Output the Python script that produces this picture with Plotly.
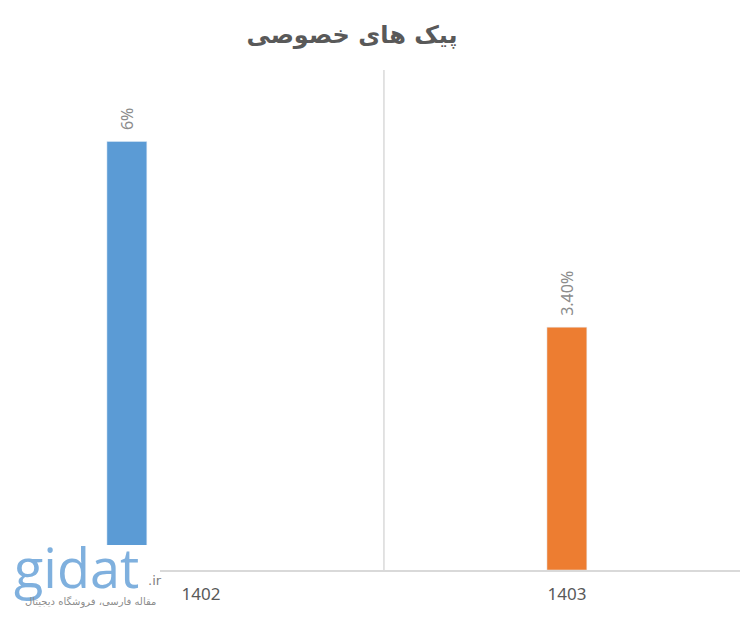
import plotly.graph_objects as go

categories = ["1402", "1403"]
blue_values = [6.0]
orange_values = [3.4]
blue_labels = ["6%"]
orange_labels = ["3.40%"]
title_text = "پیک های خصوصی"

W, H = 740, 618
L, R, T, B = 18, 0, 70, 48
pw, ph = W - L - R, H - T - B


def px(x):
    return (x - L) / pw


def py(y):
    return (H - B - y) / ph


PAD = "\u00a0\u00a0"
label_font = dict(family="Noto Sans", size=16, color="#8c8c8c")

fig = go.Figure()
fig.add_trace(go.Bar(
    x=[categories[0]], y=blue_values, text=[PAD + t for t in blue_labels],
    marker_color="#5b9bd5", width=0.109, offset=-0.257,
    textposition="outside", textangle=-90, cliponaxis=False,
    constraintext="none", textfont=label_font,
))
fig.add_trace(go.Bar(
    x=[categories[1]], y=orange_values, text=[PAD + t for t in orange_labels],
    marker_color="#ed7d31", width=0.109, offset=-0.0546,
    textposition="outside", textangle=-90, cliponaxis=False,
    constraintext="none", textfont=label_font,
))

fig.update_layout(
    width=W, height=H, barmode="overlay", showlegend=False,
    paper_bgcolor="white", plot_bgcolor="white",
    margin=dict(l=L, r=R, t=T, b=B, pad=0),
    title=dict(text="<b>" + title_text + "</b>", x=352 / W, xanchor="center",
               y=1 - 35 / H, yanchor="middle",
               font=dict(family="DejaVu Sans", size=24, color="#595959")),
    xaxis=dict(type="category", categoryorder="array", categoryarray=categories,
               range=[-0.5, 1.473], showgrid=False, zeroline=False,
               showline=True, linecolor="#d9d9d9", linewidth=1.5, ticks="",
               ticklabelstandoff=8,
               tickfont=dict(family="Noto Sans", size=17, color="#595959")),
    yaxis=dict(range=[0, 7], visible=False, showgrid=False, zeroline=False),
)

# category separator gridline
fig.add_shape(type="line", xref="x", yref="paper", x0=0.5, x1=0.5, y0=0, y1=1,
              line=dict(color="#d9d9d9", width=1.5), layer="below")

# watermark white backing
fig.add_shape(type="rect", xref="paper", yref="paper",
              x0=px(0), x1=px(160), y0=py(618), y1=py(545),
              fillcolor="white", line=dict(width=0), layer="above")

fig.add_annotation(xref="paper", yref="paper", x=px(12), y=py(567),
                   xanchor="left", yanchor="middle", showarrow=False,
                   text="gidat", font=dict(family="Open Sans", size=54, color="#7fb0de"))
fig.add_annotation(xref="paper", yref="paper", x=px(146), y=py(580),
                   xanchor="left", yanchor="middle", showarrow=False,
                   text=".ir", font=dict(family="DejaVu Sans", size=13, color="#7f7f7f"))
fig.add_annotation(xref="paper", yref="paper", x=px(158), y=py(602),
                   xanchor="right", yanchor="middle", showarrow=False,
                   text="مقاله فارسی، فروشگاه دیجیتال",
                   font=dict(family="DejaVu Sans", size=10, color="#8c8c8c"))

fig.write_html("out.html", config={"displayModeBar": False},
               post_script="document.body.style.margin='0';")
